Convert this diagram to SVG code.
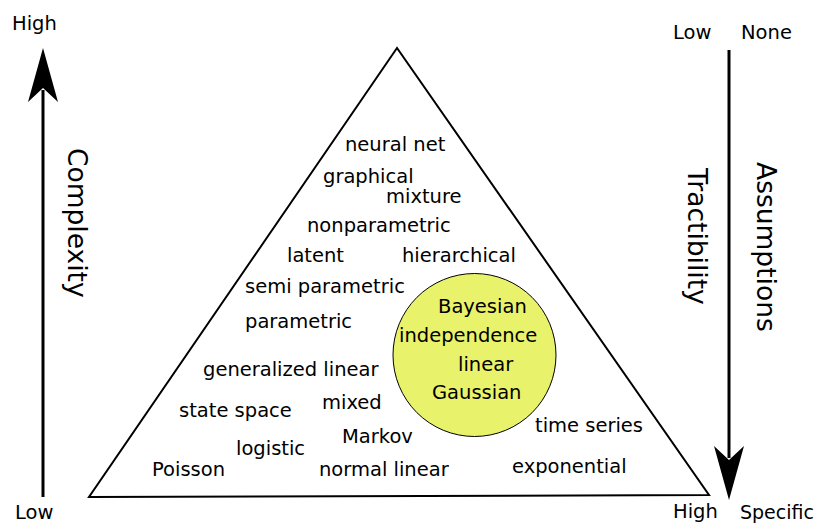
<svg xmlns="http://www.w3.org/2000/svg" width="817" height="525" viewBox="0 0 817 525">
<style>
text{font-family:"DejaVu Sans",sans-serif;font-size:19.5px;fill:#000}
.big{font-size:26.5px}
.ax{stroke:#000;stroke-width:3;fill:none}
.head{fill:#000;stroke:none}
</style>
<rect width="817" height="525" fill="#fff"/>
<g id="triangle">
<polygon points="397,48 89,497 709,495" fill="none" stroke="#000" stroke-width="2"/>
</g>
<g id="core-circle">
<circle cx="474.5" cy="355" r="81.5" fill="#e9f26b" stroke="#000" stroke-width="1"/>
<text x="438" y="313">Bayesian</text>
<text x="399" y="342">independence</text>
<text x="458" y="371">linear</text>
<text x="432" y="399">Gaussian</text>
</g>
<g id="connectors">
<line class="ax" x1="43" y1="497" x2="43" y2="90"/>
<path class="head" d="M43,48 L58,102 L43,88 L28,102 Z"/>
<line class="ax" x1="729" y1="50" x2="729" y2="458"/>
<path class="head" d="M729,500 L744,446 L729,460 L714,446 Z"/>
</g>
<g id="axis-left">
<text x="12" y="30">High</text>
<text x="15" y="519">Low</text>
<text class="big" transform="translate(68,148) rotate(90)">Complexity</text>
</g>
<g id="axis-right">
<text x="673" y="39">Low</text>
<text x="741" y="39">None</text>
<text x="673" y="518">High</text>
<text x="740" y="519" style="font-size:19px">Specific</text>
<text class="big" transform="translate(688,168) rotate(90)">Tractibility</text>
<text class="big" transform="translate(757,162) rotate(90)">Assumptions</text>
</g>
<g id="models">
<text x="345" y="151">neural net</text>
<text x="323" y="183">graphical</text>
<text x="386" y="203">mixture</text>
<text x="307" y="232">nonparametric</text>
<text x="287" y="262">latent</text>
<text x="402" y="262">hierarchical</text>
<text x="245" y="293">semi parametric</text>
<text x="245" y="328">parametric</text>
<text x="203" y="376">generalized linear</text>
<text x="179" y="417">state space</text>
<text x="322" y="409">mixed</text>
<text x="535" y="432">time series</text>
<text x="342" y="443">Markov</text>
<text x="236" y="455">logistic</text>
<text x="152" y="476">Poisson</text>
<text x="319" y="476">normal linear</text>
<text x="512" y="473">exponential</text>
</g>
</svg>
